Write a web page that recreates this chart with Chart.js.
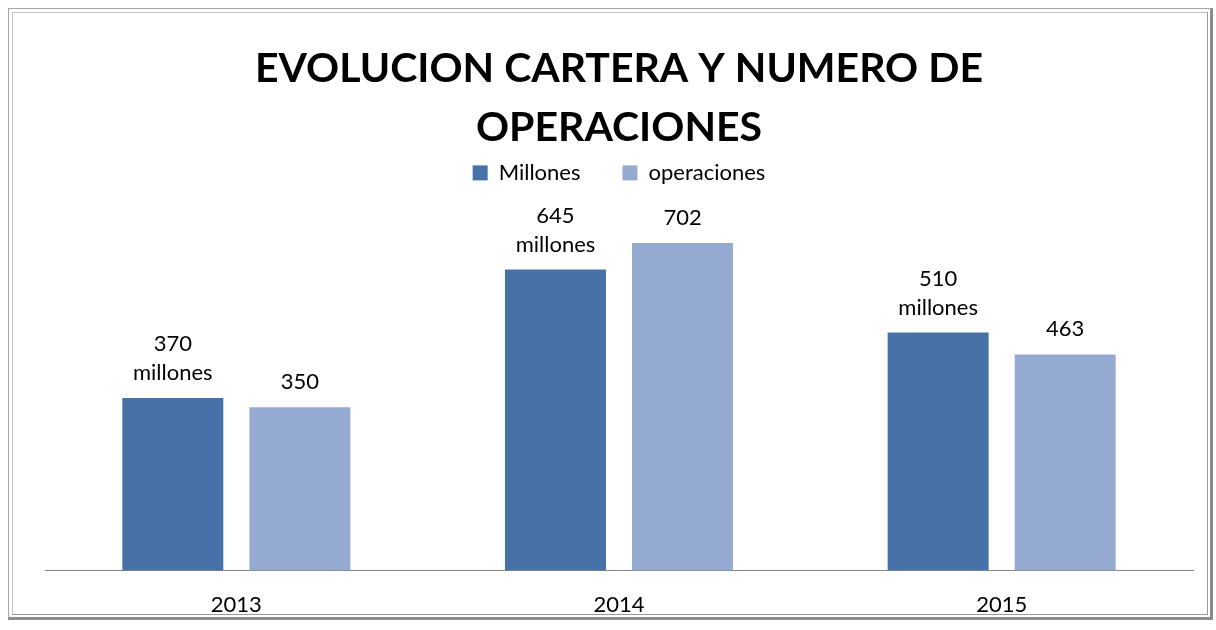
<!DOCTYPE html>
<html>
<head>
<meta charset="utf-8">
<script src="https://cdn.jsdelivr.net/npm/chart.js@4"></script>
<style>
  body { margin: 0; background: #fff; }
  #wrap { position: relative; width: 1216px; height: 630px; }
  .frame { position: absolute; left: 8px; top: 8px; width: 1205px; height: 612px; box-sizing: border-box;
           border: 1px solid #a6a6a6; border-right: 3px solid #8c8c8c; border-bottom: 3px solid #8c8c8c; }
  .inner { position: absolute; left: 3px; top: 3px; right: 2px; bottom: 2px; border: 1px solid #c4c4c4; border-right-color: #9a9a9a; border-bottom-color: #9a9a9a; }
  canvas { position: absolute; left: 0; top: 0; }
</style>
</head>
<body>
<div id="wrap">
  <div class="frame"><div class="inner"></div></div>
  <canvas id="cartera" width="1216" height="630"></canvas>
</div>
<script>
  // values
  const years = ['2013', '2014', '2015'];
  const millones = [370, 645, 510];
  const operaciones = [350, 702, 463];

  // labels above the bars: number, plus "millones" for the first series
  const barLabels = {
    id: 'barLabels',
    afterDatasetsDraw(chart) {
      const ctx = chart.ctx;
      ctx.save();
      ctx.fillStyle = '#000';
      ctx.textAlign = 'center';
      ctx.textBaseline = 'alphabetic';
      ctx.font = '22px Lato';
      chart.data.datasets.forEach((ds, i) => {
        chart.getDatasetMeta(i).data.forEach((bar, j) => {
          if (i === 0) {
            ctx.fillText(ds.data[j], bar.x, bar.y - 47);
            ctx.fillText('millones', bar.x, bar.y - 18);
          } else {
            ctx.fillText(ds.data[j], bar.x, bar.y - 18);
          }
        });
      });
      ctx.restore();
    }
  };

  function draw() {
    Chart.defaults.font.family = 'Lato';
    Chart.defaults.color = '#000';

    new Chart(document.getElementById('cartera'), {
      type: 'bar',
      data: {
        labels: years,
        datasets: [
          { label: 'Millones', data: millones, backgroundColor: '#4672a8' },
          { label: 'operaciones', data: operaciones, backgroundColor: '#95aad0' }
        ]
      },
      options: {
        responsive: false,
        animation: false,
        layout: { padding: { top: 20, left: 45, right: 23, bottom: -9 } },
        datasets: { bar: { categoryPercentage: 0.664, barPercentage: 0.795 } },
        scales: {
          x: {
            grid: { display: false, drawTicks: false },
            border: { display: true, color: '#868686', width: 1 },
            ticks: { padding: 21, font: { size: 22 } }
          },
          y: { display: false, min: 0, max: 807 }
        },
        plugins: {
          title: {
            display: true,
            text: ['EVOLUCION CARTERA Y NUMERO DE', 'OPERACIONES'],
            font: { size: 41, weight: 'bold', lineHeight: 1.45 },
            padding: { top: 19, bottom: -38 }
          },
          legend: {
            display: true,
            position: 'top',
            labels: { boxWidth: 15, boxHeight: 15, padding: 42, font: { size: 22 } }
          },
          tooltip: { enabled: false }
        }
      },
      plugins: [barLabels]
    });
  }

  document.fonts.load('bold 41px Lato').then(() => document.fonts.load('22px Lato')).then(draw, draw);
</script>
</body>
</html>
